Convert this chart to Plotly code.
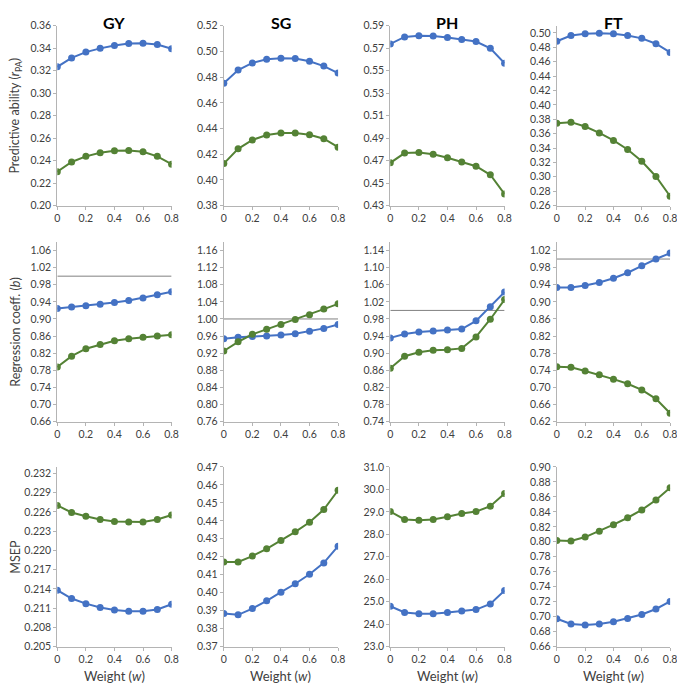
import plotly.graph_objects as go

WEIGHTS = [0, 0.1, 0.2, 0.3, 0.4, 0.5, 0.6, 0.7, 0.8]
TRAITS = ["GY", "SG", "PH", "FT"]
REF_B = 1.0

# predictive ability
GY_PA_BLUE = [0.3235, 0.3314, 0.3366, 0.3399, 0.3425, 0.3442, 0.3445, 0.3434, 0.3396]
GY_PA_GREEN = [0.2301, 0.2388, 0.2438, 0.2470, 0.2488, 0.2491, 0.2479, 0.2438, 0.2368]
SG_PA_BLUE = [0.4753, 0.4855, 0.4911, 0.4939, 0.4947, 0.4945, 0.4924, 0.4886, 0.4832]
SG_PA_GREEN = [0.4127, 0.4242, 0.4311, 0.4349, 0.4365, 0.4365, 0.4352, 0.4321, 0.4255]
PH_PA_BLUE = [0.5739, 0.5801, 0.5812, 0.5809, 0.5795, 0.5777, 0.5760, 0.5699, 0.5567]
PH_PA_GREEN = [0.4680, 0.4767, 0.4773, 0.4756, 0.4726, 0.4688, 0.4650, 0.4574, 0.4402]
FT_PA_BLUE = [0.4885, 0.4965, 0.4990, 0.4998, 0.4990, 0.4965, 0.4925, 0.4850, 0.4730]
FT_PA_GREEN = [0.3745, 0.3760, 0.3700, 0.3610, 0.3505, 0.3380, 0.3215, 0.3005, 0.2730]

# regression coefficient
GY_B_BLUE = [0.9246, 0.9277, 0.9307, 0.9346, 0.9384, 0.9430, 0.9491, 0.9567, 0.9636]
GY_B_GREEN = [0.7877, 0.8130, 0.8306, 0.8405, 0.8489, 0.8535, 0.8573, 0.8604, 0.8634]
SG_B_BLUE = [0.9535, 0.9573, 0.9589, 0.9604, 0.9627, 0.9657, 0.9711, 0.9780, 0.9872]
SG_B_GREEN = [0.9252, 0.9466, 0.9642, 0.9757, 0.9872, 0.9986, 1.0101, 1.0231, 1.0353]
PH_B_BLUE = [0.9358, 0.9450, 0.9496, 0.9519, 0.9541, 0.9564, 0.9756, 1.0085, 1.0429]
PH_B_GREEN = [0.8647, 0.8930, 0.9021, 0.9067, 0.9083, 0.9113, 0.9381, 0.9794, 1.0253]
FT_B_BLUE = [0.9336, 0.9336, 0.9382, 0.9450, 0.9550, 0.9680, 0.9841, 1.0001, 1.0139]
FT_B_GREEN = [0.7485, 0.7470, 0.7385, 0.7294, 0.7194, 0.7087, 0.6942, 0.6735, 0.6399]

# MSEP
GY_MSEP_BLUE = [0.2138, 0.2125, 0.2117, 0.2111, 0.2107, 0.2105, 0.2105, 0.2108, 0.2116]
GY_MSEP_GREEN = [0.2270, 0.2259, 0.2253, 0.2248, 0.2245, 0.2244, 0.2244, 0.2248, 0.2255]
SG_MSEP_BLUE = [0.3884, 0.3877, 0.3912, 0.3955, 0.4003, 0.4050, 0.4103, 0.4166, 0.4259]
SG_MSEP_GREEN = [0.4171, 0.4171, 0.4204, 0.4244, 0.4291, 0.4339, 0.4392, 0.4463, 0.4570]
PH_MSEP_BLUE = [24.80, 24.52, 24.46, 24.46, 24.52, 24.59, 24.65, 24.90, 25.50]
PH_MSEP_GREEN = [29.01, 28.66, 28.62, 28.66, 28.78, 28.93, 29.01, 29.25, 29.82]
FT_MSEP_BLUE = [0.6972, 0.6902, 0.6888, 0.6902, 0.6933, 0.6976, 0.7029, 0.7103, 0.7204]
FT_MSEP_GREEN = [0.8019, 0.8010, 0.8063, 0.8141, 0.8229, 0.8321, 0.8426, 0.8558, 0.8720]

BLUE = "#4472C4"
GREEN = "#548235"
AXIS = "#B4B4B4"
TXT = "#404040"
FONT = "Lato"
OFF = 8  # page body margin
W, H = 685 - OFF, 690 - OFF


def fx(px):
    return (px - OFF) / W


def fy(py):
    return 1 - (py - OFF) / H


# rows: (blue, green, y range, dtick, tick format) per column
rows = [
    [(GY_PA_BLUE, GY_PA_GREEN, [0.20, 0.36], 0.02, ".2f"),
     (SG_PA_BLUE, SG_PA_GREEN, [0.38, 0.52], 0.02, ".2f"),
     (PH_PA_BLUE, PH_PA_GREEN, [0.43, 0.59], 0.02, ".2f"),
     (FT_PA_BLUE, FT_PA_GREEN, [0.26, 0.51], 0.02, ".2f")],
    [(GY_B_BLUE, GY_B_GREEN, [0.66, 1.08], 0.04, ".2f"),
     (SG_B_BLUE, SG_B_GREEN, [0.76, 1.18], 0.04, ".2f"),
     (PH_B_BLUE, PH_B_GREEN, [0.74, 1.16], 0.04, ".2f"),
     (FT_B_BLUE, FT_B_GREEN, [0.62, 1.04], 0.04, ".2f")],
    [(GY_MSEP_BLUE, GY_MSEP_GREEN, [0.205, 0.233], 0.003, ".3f"),
     (SG_MSEP_BLUE, SG_MSEP_GREEN, [0.37, 0.47], 0.01, ".2f"),
     (PH_MSEP_BLUE, PH_MSEP_GREEN, [23.0, 31.0], 1.0, ".1f"),
     (FT_MSEP_BLUE, FT_MSEP_GREEN, [0.66, 0.90], 0.02, ".2f")],
]

col_px = [(55, 171), (224, 340), (393, 509), (562, 677)]
row_px = [(20, 203), (240, 423), (469, 652)]
row_titles = ["Predictive ability (<i>r</i><sub>PA</sub>)",
              "Regression coeff. (<i>b</i>)",
              "MSEP"]

fig = go.Figure()
layout = {}
annotations = []

for r, row in enumerate(rows):
    for c, (blue, green, yr, dt, fmt) in enumerate(row):
        n = r * 4 + c + 1
        xs = "" if n == 1 else str(n)
        x0, x1 = col_px[c]
        y0, y1 = row_px[r]
        layout["xaxis" + xs] = dict(
            domain=[fx(x0), fx(x1)], anchor="y" + xs, range=[0, 0.8],
            tickvals=[0, 0.2, 0.4, 0.6, 0.8], ticktext=["0", "0.2", "0.4", "0.6", "0.8"],
            showgrid=False, zeroline=False, showline=True, linecolor=AXIS, linewidth=1,
            ticks="outside", ticklen=3, tickcolor=AXIS,
            tickfont=dict(size=10.5, color=TXT, family=FONT))
        layout["yaxis" + xs] = dict(
            domain=[fy(y1), fy(y0)], anchor="x" + xs, range=yr,
            tick0=yr[0], dtick=dt, tickformat=fmt,
            showgrid=False, zeroline=False, showline=True, linecolor=AXIS, linewidth=1,
            ticks="outside", ticklen=3, tickcolor=AXIS,
            tickfont=dict(size=10.5, color=TXT, family=FONT))
        if r == 1:
            fig.add_trace(go.Scatter(x=[WEIGHTS[0], WEIGHTS[-1]], y=[REF_B, REF_B],
                                     mode="lines", line=dict(color="#808080", width=1),
                                     xaxis="x" + xs, yaxis="y" + xs, hoverinfo="skip"))
        for vals, col in ((blue, BLUE), (green, GREEN)):
            fig.add_trace(go.Scatter(x=WEIGHTS, y=vals, mode="lines+markers",
                                     line=dict(color=col, width=2),
                                     marker=dict(color=col, size=7),
                                     xaxis="x" + xs, yaxis="y" + xs))
        if r == 0:
            annotations.append(dict(text="<b>%s</b>" % TRAITS[c], x=fx((x0 + x1) / 2), y=fy(17),
                                    xref="paper", yref="paper", showarrow=False,
                                    xanchor="center", yanchor="middle",
                                    font=dict(size=16, color="#000000", family=FONT)))
        if r == 2:
            annotations.append(dict(text="Weight (<i>w</i>)", x=fx((x0 + x1) / 2), y=fy(682),
                                    xref="paper", yref="paper", showarrow=False,
                                    xanchor="center", yanchor="middle",
                                    font=dict(size=13, color=TXT, family=FONT)))
    y0, y1 = row_px[r]
    annotations.append(dict(text=row_titles[r], x=fx(13), y=fy((y0 + y1) / 2),
                            xref="paper", yref="paper", showarrow=False, textangle=-90,
                            xanchor="center", yanchor="middle",
                            font=dict(size=12.5, color=TXT, family=FONT)))

fig.update_layout(**layout)
fig.update_layout(width=W, height=H, margin=dict(l=0, r=0, t=0, b=0),
                  plot_bgcolor="white", paper_bgcolor="white", showlegend=False,
                  annotations=annotations, font=dict(family=FONT))
fig.write_html("out.html")
